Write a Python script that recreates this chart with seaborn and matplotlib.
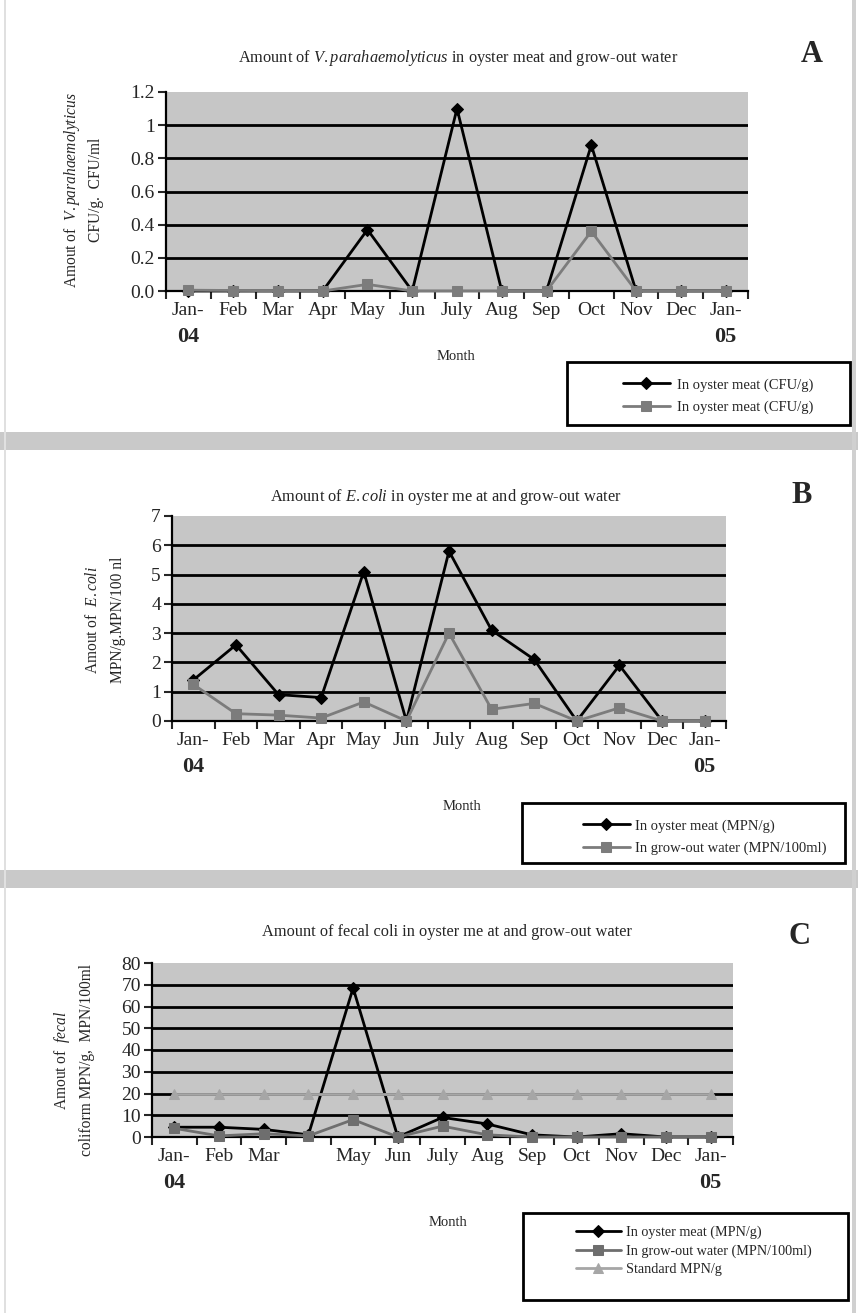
import matplotlib
matplotlib.use('Agg')
import matplotlib.pyplot as plt
import matplotlib.transforms as mtransforms
from matplotlib.patches import Rectangle
import seaborn as sns

# data (13 sampling points, Jan-04 .. Jan-05)
months = ['Jan-', 'Feb', 'Mar', 'Apr', 'May', 'Jun', 'July', 'Aug', 'Sep', 'Oct', 'Nov', 'Dec', 'Jan-']
months_c = ['Jan-', 'Feb', 'Mar', '', 'May', 'Jun', 'July', 'Aug', 'Sep', 'Oct', 'Nov', 'Dec', 'Jan-']
years = ['04', '05']

# A - V.parahaemolyticus
vp_meat = [0, 0, 0, 0, 0.37, 0, 1.10, 0, 0, 0.88, 0, 0, 0]
vp_water = [0.005, 0.003, 0.002, 0.0, 0.04, 0, 0, 0, 0, 0.36, 0, 0, 0]
# B - E.coli
ec_meat = [1.4, 2.6, 0.9, 0.8, 5.1, 0, 5.8, 3.1, 2.1, 0, 1.9, 0, 0]
ec_water = [1.25, 0.25, 0.2, 0.1, 0.65, 0, 3.0, 0.4, 0.6, 0, 0.45, 0, 0]
# C - fecal coliform
fc_meat = [4.5, 4.5, 3.5, 1, 68.5, 0, 9, 6, 1, 0, 1.5, 0, 0]
fc_water = [4, 0.5, 1.5, 0.5, 8, 0, 5, 1, 0, 0, 0, 0, 0]
fc_std = [20, 20, 20, 20, 20, 20, 20, 20, 20, 20, 20, 20, 20]

sns.set_style('white')
plt.rcParams['font.family'] = ['Liberation Serif', 'DejaVu Serif']
plt.rcParams['mathtext.fontset'] = 'custom'
plt.rcParams['mathtext.rm'] = 'Liberation Serif'
plt.rcParams['mathtext.it'] = 'Liberation Serif:italic'

W, H = 858, 1313
fig = plt.figure(figsize=(W / 100, H / 100), dpi=100)
fig.patch.set_facecolor('white')


def px(l, t, r, b):
    return [l / W, 1 - b / H, (r - l) / W, (b - t) / H]


# scanned page separators
for y0, y1 in [(432, 450), (870, 888)]:
    fig.patches.append(Rectangle((0, 1 - y1 / H), 1, (y1 - y0) / H, transform=fig.transFigure,
                                 facecolor='#c9c9c9', edgecolor='none'))
fig.patches.append(Rectangle((852 / W, 0), 4 / W, 1, transform=fig.transFigure,
                             facecolor='#d0d0d0', edgecolor='none'))
fig.patches.append(Rectangle((4 / W, 0), 2 / W, 1, transform=fig.transFigure,
                             facecolor='#e0e0e0', edgecolor='none'))

GRAY_BG = '#c6c6c6'
x = list(range(13))


def make_panel(box, series, yticks, ylabels, ticklabels):
    ax = fig.add_axes(px(*box))
    ax.set_facecolor(GRAY_BG)
    for vals, col, mk, ms, lab in series:
        sns.lineplot(x=x, y=vals, ax=ax, color=col, marker=mk, markersize=ms, linewidth=2,
                     markeredgecolor=col, label=lab, legend=False, clip_on=False, zorder=3)
    ax.set_xlim(-0.47, 12.5)
    ax.set_ylim(yticks[0], yticks[-1])
    ax.set_yticks(yticks)
    ax.set_yticklabels(ylabels)
    ax.set_xticks(x)
    ax.set_xticklabels(ticklabels)
    ax.set_xticks([i - 0.5 for i in range(14)], minor=True)
    ax.grid(axis='y', color='black', linewidth=2)
    ax.get_ygridlines()[-1].set_visible(False)
    ax.set_axisbelow(True)
    for s in ['top', 'right']:
        ax.spines[s].set_visible(False)
    for s in ['left', 'bottom']:
        ax.spines[s].set_color('black')
        ax.spines[s].set_linewidth(1.6)
    ax.tick_params(axis='y', direction='out', length=6, width=1.5, labelsize=14, left=True, pad=2)
    ax.tick_params(axis='x', which='major', length=0, labelsize=14, pad=8)
    ax.tick_params(axis='x', which='minor', direction='out', length=6, width=1.5, bottom=True)
    ax.set_xlabel('')
    ax.set_ylabel('')
    trans = mtransforms.blended_transform_factory(ax.transData, ax.transAxes)
    for xi, yr in zip([0, 12], years):
        ax.annotate(yr, xy=(xi, 0), xycoords=trans, xytext=(0, -46), textcoords='offset pixels',
                    ha='center', va='center', fontsize=16, fontweight='bold')
    return ax


def legend_box(l, t, r, b):
    fig.patches.append(Rectangle((l / W, 1 - b / H), (r - l) / W, (b - t) / H, transform=fig.transFigure,
                                 facecolor='white', edgecolor='black', linewidth=2, zorder=5))


# ---------------- Panel A ----------------
axA = make_panel((166, 92, 748, 291),
                 [(vp_meat, 'black', 'D', 6, 'In oyster meat (CFU/g)'),
                  (vp_water, '#7c7c7c', 's', 6.5, 'In oyster meat (CFU/g)')],
                 [0, 0.2, 0.4, 0.6, 0.8, 1.0, 1.2],
                 ['0.0', '0.2', '0.4', '0.6', '0.8', '1', '1.2'], months)
fig.text(458 / W, 1 - 58 / H, r'Amount of $\it{V.parahaemolyticus}$ in oyster meat and grow-out water',
         ha='center', va='center', fontsize=11.8)
fig.text(812 / W, 1 - 55 / H, 'A', ha='center', va='center', fontsize=22, fontweight='bold')
fig.text(72 / W, 1 - 190 / H, r'Amout of  $\it{V.parahaemolyticus}$', rotation=90,
         ha='center', va='center', fontsize=11.2)
fig.text(96 / W, 1 - 190 / H, 'CFU/g.  CFU/ml', rotation=90, ha='center', va='center', fontsize=11.2)
fig.text(456 / W, 1 - 357 / H, 'Month', ha='center', va='center', fontsize=10.5)
legend_box(567, 362, 850, 425)
legA = fig.legend(handles=axA.lines[:2], labels=['In oyster meat (CFU/g)', 'In oyster meat (CFU/g)'],
                  loc='upper left', bbox_to_anchor=(610 / W, 1 - 365 / H), frameon=False,
                  fontsize=10.5, handlelength=3.2, handletextpad=0.5, labelspacing=0.6, numpoints=1)
legA.set_zorder(6)

# ---------------- Panel B ----------------
axB = make_panel((172, 516, 726, 721),
                 [(ec_meat, 'black', 'D', 6, 'In oyster meat (MPN/g)'),
                  (ec_water, '#7c7c7c', 's', 6.5, 'In grow-out water (MPN/100ml)')],
                 [0, 1, 2, 3, 4, 5, 6, 7],
                 ['0', '1', '2', '3', '4', '5', '6', '7'], months)
fig.text(446 / W, 1 - 497 / H, r'Amount of $\it{E.coli}$ in oyster me at and grow-out water',
         ha='center', va='center', fontsize=11.8)
fig.text(802 / W, 1 - 495 / H, 'B', ha='center', va='center', fontsize=22, fontweight='bold')
fig.text(93 / W, 1 - 620 / H, r'Amout of  $\it{E.coli}$', rotation=90, ha='center', va='center', fontsize=11.2)
fig.text(118 / W, 1 - 620 / H, 'MPN/g.MPN/100 nl', rotation=90, ha='center', va='center', fontsize=11.2)
fig.text(462 / W, 1 - 806 / H, 'Month', ha='center', va='center', fontsize=10.5)
legend_box(522, 803, 845, 863)
legB = fig.legend(handles=axB.lines[:2], labels=['In oyster meat (MPN/g)', 'In grow-out water (MPN/100ml)'],
                  loc='upper left', bbox_to_anchor=(570 / W, 1 - 806 / H), frameon=False,
                  fontsize=10.5, handlelength=3.2, handletextpad=0.35, labelspacing=0.6, numpoints=1)
legB.set_zorder(6)

# ---------------- Panel C ----------------
axC = make_panel((152, 963, 733, 1137),
                 [(fc_meat, 'black', 'D', 6, 'In oyster meat (MPN/g)'),
                  (fc_water, '#6e6e6e', 's', 6.5, 'In grow-out water (MPN/100ml)'),
                  (fc_std, '#a6a6a6', '^', 7, 'Standard MPN/g')],
                 [0, 10, 20, 30, 40, 50, 60, 70, 80],
                 ['0', '10', '20', '30', '40', '50', '60', '70', '80'], months_c)
fig.text(447 / W, 1 - 932 / H, 'Amount of fecal coli in oyster me at and grow-out water',
         ha='center', va='center', fontsize=11.8)
fig.text(800 / W, 1 - 937 / H, 'C', ha='center', va='center', fontsize=22, fontweight='bold')
fig.text(62 / W, 1 - 1060 / H, r'Amout of  $\it{fecal}$', rotation=90, ha='center', va='center', fontsize=11.2)
fig.text(87 / W, 1 - 1060 / H, 'coliform MPN/g,  MPN/100ml', rotation=90, ha='center', va='center', fontsize=11.2)
fig.text(448 / W, 1 - 1222 / H, 'Month', ha='center', va='center', fontsize=10.5)
legend_box(523, 1213, 848, 1300)
legC = fig.legend(handles=axC.lines[:3],
                  labels=['In oyster meat (MPN/g)', 'In grow-out water (MPN/100ml)', 'Standard MPN/g'],
                  loc='upper left', bbox_to_anchor=(563 / W, 1 - 1213 / H), frameon=False,
                  fontsize=10.2, handlelength=3.2, handletextpad=0.35, labelspacing=0.35, numpoints=1)
legC.set_zorder(6)

fig.savefig('out.png', dpi=100)
